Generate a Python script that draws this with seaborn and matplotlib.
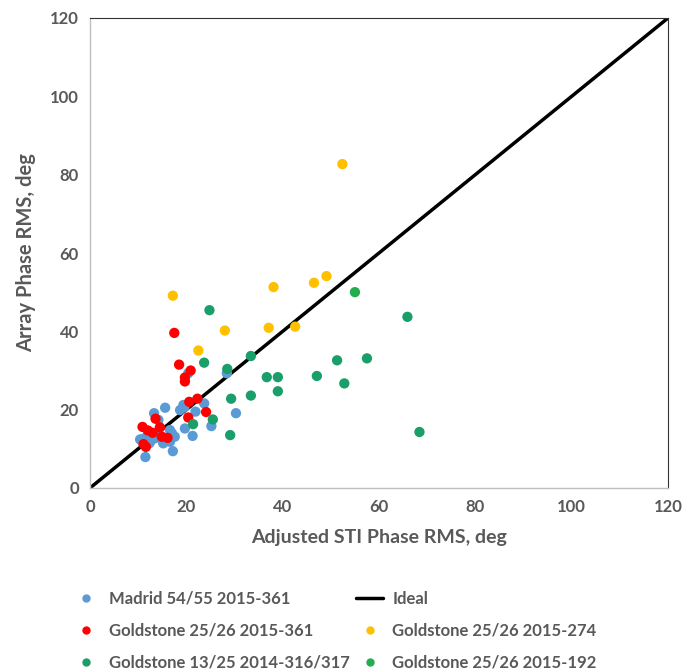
import matplotlib
matplotlib.use("Agg")
import matplotlib.pyplot as plt
import seaborn as sns
import pandas as pd
import numpy as np
from matplotlib.lines import Line2D

# ---- data ----
madrid_x = [10.4, 11.4, 12.3, 12.5, 13.1, 13.5, 14.5, 15.2, 16.6, 17.0, 17.6, 16.6, 14.2, 13.3, 15.6,
            19.4, 18.7, 19.6, 23.7, 21.9, 30.3, 25.2, 19.7, 21.3, 17.2, 11.5, 20.4, 28.4, 11.0, 15.0, 12.0]
madrid_y = [12.4, 12.7, 11.4, 11.8, 12.7, 12.7, 13.5, 11.4, 14.8, 14.0, 13.1, 11.8, 17.4, 19.1, 20.5,
            21.2, 19.9, 20.6, 21.6, 19.5, 19.1, 15.8, 15.2, 13.3, 9.4, 7.9, 29.3, 29.3, 12.5, 12.5, 13.5]

gs361_x = [17.5, 18.5, 20.9, 19.7, 19.7, 20.6, 22.3, 24.1, 20.4, 13.6, 10.9, 12.0, 13.0, 14.5, 14.9, 16.1, 11.1, 11.6]
gs361_y = [39.6, 31.5, 30.0, 28.2, 27.2, 22.0, 22.8, 19.4, 18.0, 17.7, 15.6, 14.7, 14.1, 15.5, 13.1, 12.8, 11.2, 10.5]

gs274_x = [52.4, 17.2, 38.1, 46.5, 49.1, 28.0, 37.1, 42.6, 22.5]
gs274_y = [82.7, 49.1, 51.3, 52.4, 54.1, 40.2, 40.9, 41.2, 35.1]

gs1325_x = [24.8, 23.7, 33.4, 28.5, 36.7, 39.0, 39.0, 33.4, 29.3, 25.5, 21.4, 29.1, 47.1, 51.3, 57.5, 52.8, 65.9, 68.4]
gs1325_y = [45.4, 32.0, 33.7, 30.4, 28.3, 28.3, 24.7, 23.6, 22.8, 17.5, 16.3, 13.5, 28.6, 32.6, 33.1, 26.7, 43.7, 14.3]

gs192_x = [55.0]
gs192_y = [50.0]

ideal_x = [0, 120]
ideal_y = [0, 120]

colors = {"Madrid 54/55 2015-361": "#5B9BD5",
          "Goldstone 25/26 2015-361": "#FF0000",
          "Goldstone 13/25 2014-316/317": "#1A9E6A",
          "Goldstone 25/26 2015-274": "#FFC000",
          "Goldstone 25/26 2015-192": "#22AE4C"}

frames = []
for name, xs, ys in [("Madrid 54/55 2015-361", madrid_x, madrid_y),
                     ("Goldstone 25/26 2015-361", gs361_x, gs361_y),
                     ("Goldstone 25/26 2015-274", gs274_x, gs274_y),
                     ("Goldstone 13/25 2014-316/317", gs1325_x, gs1325_y),
                     ("Goldstone 25/26 2015-192", gs192_x, gs192_y)]:
    frames.append(pd.DataFrame({"x": xs, "y": ys, "series": name}))
df = pd.concat(frames, ignore_index=True)

sns.set_style("white")
plt.rcParams['font.family'] = ['Lato', 'DejaVu Sans']

fig = plt.figure(figsize=(6.89, 6.72), dpi=100)
ax = fig.add_axes([90/689, 1-488/672, 578/689, 470/672])

sns.lineplot(x=ideal_x, y=ideal_y, ax=ax, color="black", lw=2.5, zorder=1, legend=False)
sns.scatterplot(data=df, x="x", y="y", hue="series", palette=colors, s=55, edgecolor="none",
                ax=ax, legend=False, zorder=2)

ax.set_xlim(0, 120)
ax.set_ylim(0, 120)
ax.set_xticks(range(0, 121, 20))
ax.set_yticks(range(0, 121, 20))
gray = "#595959"
for lab in ax.get_xticklabels() + ax.get_yticklabels():
    lab.set_fontweight("bold")
    lab.set_color(gray)
    lab.set_fontsize(12)
ax.tick_params(axis="both", length=0, pad=8)
ax.set_xlabel("Adjusted STI Phase RMS, deg", fontsize=14, fontweight="bold", color=gray, labelpad=10)
ax.set_ylabel("Array Phase RMS, deg", fontsize=14.5, fontweight="bold", color=gray, labelpad=10)
for side in ["left", "bottom"]:
    ax.spines[side].set_color("#BFBFBF")
    ax.spines[side].set_linewidth(1)
for side in ["top", "right"]:
    ax.spines[side].set_color("#333333")
    ax.spines[side].set_linewidth(0.8)

def dot(c):
    return Line2D([], [], marker="o", ls="none", color=c, markersize=5)

handles = [dot(colors["Madrid 54/55 2015-361"]),
           dot(colors["Goldstone 25/26 2015-361"]),
           dot(colors["Goldstone 13/25 2014-316/317"]),
           Line2D([], [], color="black", lw=2.5),
           dot(colors["Goldstone 25/26 2015-274"]),
           dot(colors["Goldstone 25/26 2015-192"])]
labels = ["Madrid 54/55 2015-361", "Goldstone 25/26 2015-361", "Goldstone 13/25 2014-316/317",
          "Ideal", "Goldstone 25/26 2015-274", "Goldstone 25/26 2015-192"]
leg = fig.legend(handles, labels, ncol=2, loc="upper left", bbox_to_anchor=(58/689, 1-576/672),
                 frameon=False, prop={"weight": "bold", "size": 12}, handlelength=1.6,
                 columnspacing=0.4, labelspacing=0.95, handletextpad=0.55)
for t in leg.get_texts():
    t.set_color(gray)

fig.savefig("out.png", dpi=100, facecolor="white")
